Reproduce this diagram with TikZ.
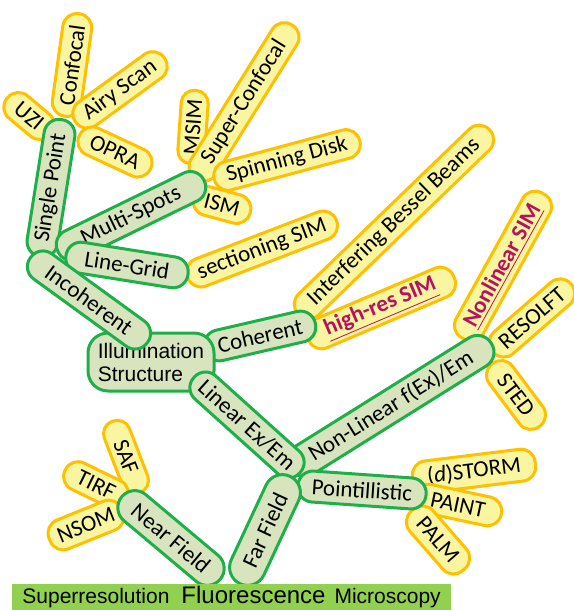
\documentclass[tikz,border=0pt]{standalone}
\usepackage{fontspec}
\setmainfont{Carlito}
\newfontfamily\arialfont{Liberation Sans}
\usepackage{tikz}
\definecolor{leaffill}{RGB}{249,245,160}
\definecolor{leafline}{RGB}{255,192,0}
\definecolor{branchfill}{RGB}{215,228,190}
\definecolor{branchline}{RGB}{30,175,75}
\definecolor{simred}{RGB}{180,20,95}
\definecolor{bannergreen}{RGB}{146,208,80}
\newcommand{\simtext}[1]{\textcolor{simred}{\bfseries\underline{#1}}}

\begin{document}
\begin{tikzpicture}[x=0.5pt, y=-0.5pt, every node/.style={font=\fontsize{11.5}{13}\selectfont, inner xsep=2pt, inner ysep=0pt},
  leaf/.style={draw=leafline, fill=leaffill, line width=1.5pt, rounded corners=7pt, minimum height=14.5pt},
  branch/.style={draw=branchline, fill=branchfill, line width=1.5pt, rounded corners=7.5pt, minimum height=15.5pt}]
\useasboundingbox (0,0) rectangle (573,610);
\node (confocal) [leaf, rotate=82, minimum width=51.75pt] at (72,65) {Confocal};
\node (airyscan) [leaf, rotate=36, minimum width=54.75pt] at (120,90) {Airy Scan};
\node (uzi) [leaf, rotate=-40, minimum width=28.25pt] at (29,116) {UZI};
\node (opra) [leaf, rotate=-25, minimum width=39.25pt] at (115,152) {OPRA};
\node (msim) [leaf, rotate=86, minimum width=36.75pt, minimum height=13.5pt, rounded corners=6.5pt] at (193,127) {MSIM};
\node (superconfocal) [leaf, rotate=58, minimum width=90.75pt] at (244,102) {Super-Confocal};
\node (spinning) [leaf, rotate=15, minimum width=75.25pt] at (287,160) {Spinning Disk};
\node (ism) [leaf, rotate=-15, minimum width=29.25pt] at (222,205) {ISM};
\node (sectioning) [leaf, rotate=21, minimum width=79.75pt] at (262,249) {sectioning SIM};
\node (bessel) [leaf, rotate=44, minimum width=132.75pt] at (394,222) {Interfering Bessel Beams};
\node (highres) [leaf, rotate=23, minimum width=79.25pt, minimum height=15.5pt] at (381,308) {\simtext{high-res SIM}};
\node (nonlinsim) [leaf, rotate=61, minimum width=82.75pt, minimum height=15.5pt] at (503,266) {\simtext{Nonlinear SIM}};
\node (resolft) [leaf, rotate=41, minimum width=51.75pt] at (532,318) {RESOLFT};
\node (sted) [leaf, rotate=-53, minimum width=39.25pt] at (516,395) {STED};
\node (dstorm) [leaf, rotate=7, minimum width=61.75pt, minimum height=16pt] at (474,471) {(\textit{d})STORM};
\node (paint) [leaf, rotate=-12, minimum width=44.25pt] at (458,505) {PAINT};
\node (palm) [leaf, rotate=-49, minimum width=39.25pt, minimum height=15.5pt] at (438,540) {PALM};
\node (saf) [leaf, rotate=-69, minimum width=38.25pt, minimum height=13.5pt, rounded corners=6.5pt] at (126,457) {SAF};
\node (tirf) [leaf, rotate=-26, minimum width=34.25pt] at (96,485) {TIRF};
\node (nsom) [leaf, rotate=22, minimum width=39.25pt, minimum height=15.5pt] at (86,525) {NSOM};
\node (coherent) [branch, rotate=13, minimum width=56.75pt] at (260,336) {Coherent};
\node (singlepoint) [branch, rotate=81, minimum width=69.25pt] at (51,188) {Single Point};
\node (multispots) [branch, rotate=26, minimum width=81.25pt] at (131,216) {Multi-Spots};
\node (linegrid) [branch, rotate=-9, minimum width=61.75pt] at (127,265) {Line-Grid};
\node (illum) [branch, rounded corners=10pt, minimum width=63pt, minimum height=29pt, align=left, font=\arialfont\fontsize{10.5}{11.5}\selectfont] at (151,362) {Illumination\\Structure};
\node (incoherent) [branch, rotate=-36, minimum width=72.25pt] at (89,300) {Incoherent};
\node (nonlinear) [branch, rotate=32, minimum width=118.25pt, minimum height=16.5pt, rounded corners=8pt] at (391,406) {Non-Linear f(Ex)/Em};
\node (linear) [branch, rotate=-42, minimum width=71.25pt] at (247,425) {Linear Ex/Em};
\node (pointillistic) [branch, rotate=-4, minimum width=64.25pt] at (362,490) {Pointillistic};
\node (farfield) [branch, rotate=65, minimum width=59.25pt, minimum height=18pt, rounded corners=9pt] at (265,530) {Far Field};
\node (nearfield) [branch, rotate=-40, minimum width=64.25pt, minimum height=17pt, rounded corners=8.5pt] at (171,538) {Near Field};
\node (banner) [fill=bannergreen, anchor=north west, text width=209.5pt, inner xsep=5pt, minimum height=13pt, align=left, font=\arialfont\fontsize{10.5}{12}\selectfont] at (12,584) {Superresolution\hspace{6pt}{\fontsize{12}{12}\selectfont Fluorescence}\hspace{1pt} Microscopy};
\end{tikzpicture}
\end{document}
